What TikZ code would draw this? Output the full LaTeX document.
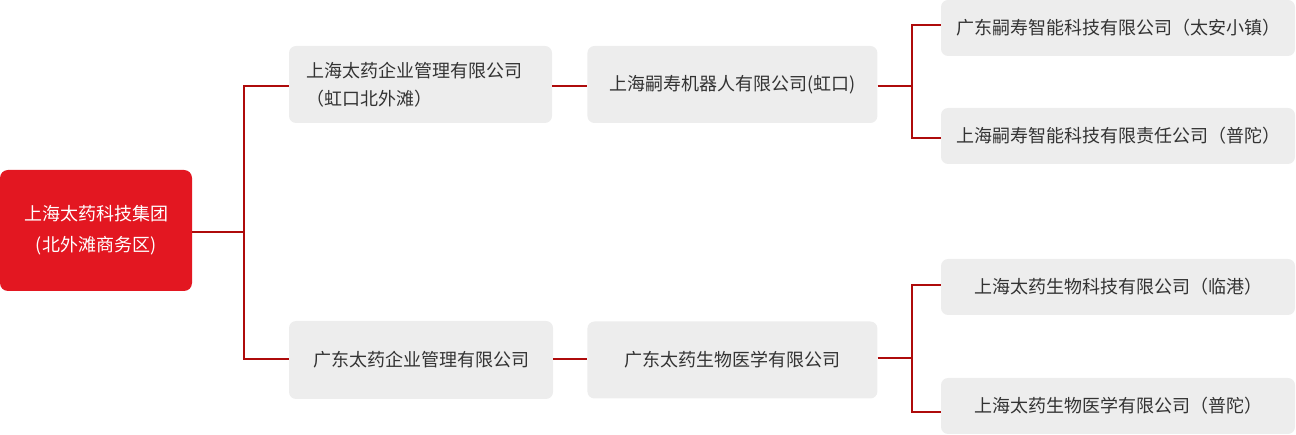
\documentclass[tikz,border=0pt]{standalone}
\usepackage{fontspec}
\setmainfont{Noto Sans CJK SC}
\usetikzlibrary{positioning}
\definecolor{rootred}{HTML}{E31721}
\definecolor{linkred}{HTML}{AE0B0B}
\definecolor{boxgray}{HTML}{EDEDED}
\definecolor{txtgray}{HTML}{333333}

\begin{document}
\begin{tikzpicture}[x=1pt, y=-1pt,
  box/.style={fill=boxgray, text=txtgray, rounded corners=7pt, inner sep=0pt,
    font=\fontsize{18}{28}\selectfont, align=center},
  midbox/.style={box, minimum width=290pt, minimum height=77pt},
  leafbox/.style={box, minimum width=354pt, minimum height=56pt},
  link/.style={draw=linkred, line width=2pt},
  node distance=35pt]
\useasboundingbox (0,0) rectangle (1296,435);
%% group
\node[box, fill=rootred, text=white, rounded corners=8pt, minimum width=192pt,
  minimum height=121pt, font=\fontsize{18}{31}\selectfont] (root) at (96,230.5)
  {上海太药科技集团\\(北外滩商务区)};
%% second level
\node[box, align=left, text width=229pt, inner xsep=17pt, minimum height=77pt] (shmgmt) at (420.5,84.5)
  {上海太药企业管理有限公司\\（虹口北外滩）};
\node[box, minimum width=264pt, minimum height=78pt] (gdmgmt) at (421,360)
  {广东太药企业管理有限公司};
%% third level
\node[midbox, right=of shmgmt] (robot) {上海嗣寿机器人有限公司(虹口)};
\node[midbox, right=34pt of gdmgmt] (gdbio) {广东太药生物医学有限公司};
%% leaves
\node[leafbox] (taian) at (1118,28) {广东嗣寿智能科技有限公司（太安小镇）};
\node[leafbox] (putuoA) at (1118,136) {上海嗣寿智能科技有限责任公司（普陀）};
\node[leafbox] (lingang) at (1118,287) {上海太药生物科技有限公司（临港）};
\node[leafbox] (putuoB) at (1118,406) {上海太药生物医学有限公司（普陀）};
%% connectors
\draw[link] ([yshift=-2pt]root.east) -- ++(51.5,0) coordinate (rootsplit);
\draw[link] ([yshift=-2pt]shmgmt.west) -| (rootsplit) |- ([yshift=1pt]gdmgmt.west);
\draw[link] ([yshift=-2pt]shmgmt.east) -- ([yshift=-2pt]robot.west);
\draw[link] ([yshift=1pt]gdmgmt.east) -- ([yshift=1pt]gdbio.west);
\draw[link] ([yshift=-2pt]robot.east) -- ++(34.5,0) coordinate (robotsplit);
\draw[link] ([yshift=3pt]taian.west) -| (robotsplit) |- ([yshift=-2pt]putuoA.west);
\draw[link] ([yshift=2pt]gdbio.east) -- ++(34.5,0) coordinate (biosplit);
\draw[link] ([yshift=2pt]lingang.west) -| (biosplit) |- ([yshift=-6pt]putuoB.west);
\end{tikzpicture}
\end{document}
